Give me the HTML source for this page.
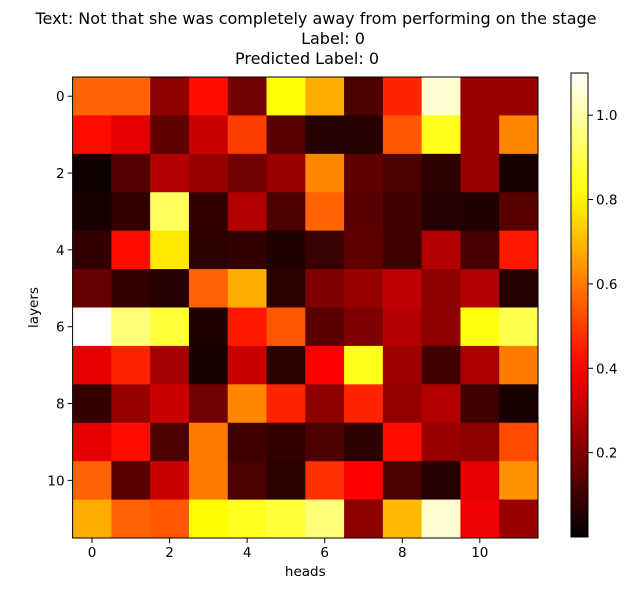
<!DOCTYPE html>
<html><head><meta charset="utf-8"><style>
html,body{margin:0;padding:0;background:#fff;}
svg{display:block;font-family:"DejaVu Sans","Liberation Sans",sans-serif;}
</style></head><body>
<svg id="chart" width="630" height="589" viewBox="0 0 630 589">
<text x="316" y="24" font-size="16" text-anchor="middle">Text: Not that she was completely away from performing on the stage</text>
<text x="333" y="44" font-size="16" text-anchor="middle">Label: 0</text>
<text x="307" y="64" font-size="16" text-anchor="middle">Predicted Label: 0</text>
<g id="cells"></g>
<g id="axes"></g>
<defs><linearGradient id="cbgrad" x1="0" y1="1" x2="0" y2="0"></linearGradient></defs>
<g id="cbar"></g>
</svg>
<script>
const xTicks = [0,2,4,6,8,10];
const yTicks = [0,2,4,6,8,10];
const cbTicks = [0.2,0.4,0.6,0.8,1.0];
const vmin = 0, vmax = 1.1;
const row0 = [0.56,0.56,0.22,0.42,0.18,0.82,0.68,0.12,0.46,1.05,0.24,0.24];
const row1 = [0.42,0.36,0.15,0.32,0.50,0.14,0.06,0.06,0.54,0.84,0.24,0.62];
const row2 = [0.02,0.13,0.28,0.24,0.18,0.24,0.62,0.15,0.12,0.07,0.24,0.04];
const row3 = [0.04,0.08,0.92,0.08,0.28,0.12,0.56,0.14,0.10,0.06,0.05,0.14];
const row4 = [0.08,0.42,0.78,0.07,0.08,0.05,0.09,0.15,0.10,0.28,0.11,0.44];
const row5 = [0.16,0.08,0.06,0.56,0.68,0.07,0.20,0.24,0.30,0.22,0.28,0.06];
const row6 = [1.10,0.95,0.88,0.05,0.44,0.54,0.14,0.20,0.28,0.22,0.83,0.90];
const row7 = [0.36,0.46,0.26,0.04,0.32,0.07,0.40,0.84,0.25,0.10,0.27,0.60];
const row8 = [0.08,0.24,0.32,0.18,0.62,0.46,0.22,0.46,0.23,0.28,0.10,0.04];
const row9 = [0.36,0.42,0.12,0.60,0.10,0.08,0.12,0.07,0.42,0.24,0.22,0.52];
const row10 = [0.56,0.14,0.32,0.60,0.12,0.07,0.48,0.40,0.12,0.06,0.36,0.64];
const row11 = [0.68,0.56,0.54,0.81,0.85,0.88,0.95,0.22,0.70,1.05,0.38,0.24];
const values = [row0,row1,row2,row3,row4,row5,row6,row7,row8,row9,row10,row11];

const NS="http://www.w3.org/2000/svg";
const L=72.6, R=538, T=77, B=538;
const nC=values[0].length, nR=values.length;
const cw=(R-L)/nC, ch=(B-T)/nR;
const xPos=i=>L+i*cw, yPos=j=>T+j*ch;
function hot(v){
  let t=Math.max(0,Math.min(1,(v-vmin)/(vmax-vmin)));
  const r=Math.min(1,t/0.365), g=Math.max(0,Math.min(1,(t-0.365)/0.375)), b=Math.max(0,Math.min(1,(t-0.74)/0.26));
  return `rgb(${Math.round(r*255)},${Math.round(g*255)},${Math.round(b*255)})`;
}
function mk(tag,attrs,parent){const e=document.createElementNS(NS,tag);for(const k in attrs)e.setAttribute(k,attrs[k]);parent.appendChild(e);return e;}
const cells=document.getElementById('cells');
values.forEach((row,j)=>row.forEach((v,i)=>{
  const r=mk('rect',{x:xPos(i),y:yPos(j),width:cw+0.5,height:ch+0.5,fill:hot(v)},cells);
  
  
}));
const ax=document.getElementById('axes');
const fr=mk('rect',{x:L,y:T,width:R-L,height:B-T,fill:'none',stroke:'#000','stroke-width':1},ax);


xTicks.forEach(t=>{
  const x=xPos(t)+cw/2;
  mk('line',{x1:x,y1:B,x2:x,y2:B+5,stroke:'#000'},ax);
  const tx=mk('text',{x:x,y:B+19,'font-size':13.5,'text-anchor':'middle'},ax);tx.textContent=t;
  
  
});
yTicks.forEach(t=>{
  const y=yPos(t)+ch/2;
  mk('line',{x1:L-5,y1:y,x2:L,y2:y,stroke:'#000'},ax);
  const tx=mk('text',{x:L-8,y:y+5,'font-size':13.5,'text-anchor':'end'},ax);tx.textContent=t;
  
  
});
const xl=mk('text',{x:(L+R)/2,y:576,'font-size':13.5,'text-anchor':'middle'},ax);xl.textContent='heads';


const yl=mk('text',{x:0,y:0,'font-size':13.5,'text-anchor':'middle',transform:`translate(38,${(T+B)/2}) rotate(-90)`},ax);yl.textContent='layers';


// colorbar
const grad=document.getElementById('cbgrad');
for(let k=0;k<=20;k++){const v=vmin+(vmax-vmin)*k/20;mk('stop',{offset:(k/20),'stop-color':hot(v)},grad);}
const cb=document.getElementById('cbar');
const CL=571, CR=588, CT=73, CB=537;
const cyPos=v=>CB-(v-vmin)/(vmax-vmin)*(CB-CT);
const cr=mk('rect',{x:CL,y:CT,width:CR-CL,height:CB-CT,fill:'url(#cbgrad)',stroke:'#000','stroke-width':1},cb);


cbTicks.forEach(t=>{
  const y=cyPos(t);
  mk('line',{x1:CR,y1:y,x2:CR+5,y2:y,stroke:'#000'},cb);
  const tx=mk('text',{x:CR+8,y:y+5,'font-size':13.5},cb);tx.textContent=t.toFixed(1);
  
  
});
</script>
</body></html>
